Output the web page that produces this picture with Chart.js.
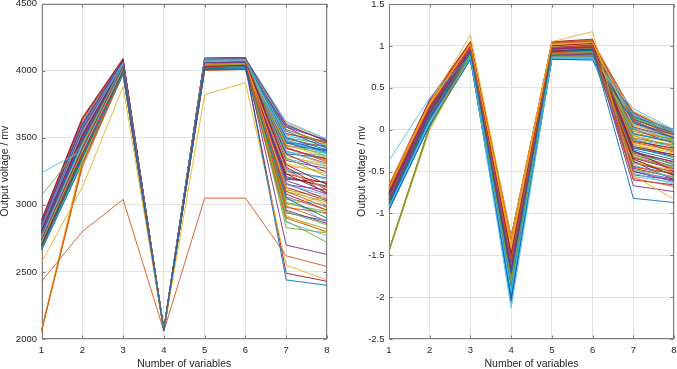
<!DOCTYPE html>
<html>
<head>
<meta charset="utf-8">
<script src="https://cdn.jsdelivr.net/npm/chart.js@4.4.0/dist/chart.umd.min.js"></script>
<style>
    html, body { margin: 0; padding: 0; background: #fff; overflow: hidden; }
    canvas { position: absolute; top: 0; }
    #leftChart { left: 0; }
    #rightChart { left: 338px; }
</style>
</head>
<body>
<canvas id="leftChart" width="338" height="369"></canvas>
<canvas id="rightChart" width="339" height="369"></canvas>
<script>
'use strict';

var xLabels = ['1', '2', '3', '4', '5', '6', '7', '8'];

// matlab default colour order, lines cycle through it
var lineColors = ['#0072BD', '#D95319', '#EDB120', '#7E2F8E', '#77AC30', '#4DBEEE', '#A2142F'];

// left panel: raw output voltage
var leftLines = [
    [2680, 3350, 3990, 2060, 4020, 4030, 2440, 2400],
    [2430, 2800, 3040, 2060, 3050, 3050, 2620, 2540],
    [2570, 3130, 3880, 2058, 3820, 3910, 2550, 2440],
    [2740, 3420, 4030, 2066, 4060, 4060, 2700, 2630],
    [3070, 3450, 4040, 2068, 4080, 4085, 3350, 3210],
    [3240, 3400, 4020, 2064, 4065, 4075, 3480, 3380],
    [2700, 3380, 4000, 2062, 4030, 4040, 2490, 2430],
    [2790, 3480, 4030, 2065, 4060, 4070, 3550, 3420],
    [2055, 3300, 4000, 2062, 4030, 4040, 3100, 2980],
    [2060, 3320, 4020, 2065, 4050, 4050, 3250, 3120],
    [2850, 3600, 4070, 2070, 4085, 4090, 3600, 3470],
    [2680, 3330, 3980, 2062, 4020, 4030, 2950, 2850],
    [2760, 3450, 4050, 2068, 4075, 4080, 3400, 3300],
    [2810, 3520, 4040, 2066, 4050, 4060, 3300, 3150],
    [2700, 3360, 3990, 2061, 4010, 4010, 3050, 2900],
    [2065, 3280, 3980, 2060, 4000, 4010, 2900, 2800],
    [2070, 3340, 4050, 2070, 4070, 4080, 3450, 3350],
    [2770, 3470, 4040, 2067, 4070, 4075, 3180, 3080],
    [2730, 3400, 4010, 2063, 4040, 4045, 2880, 2720],
    [2820, 3540, 4060, 2069, 4090, 4092, 3620, 3490],
    [2880, 3640, 4085, 2072, 4092, 4095, 3280, 3110],
    [2660, 3310, 3970, 2060, 4015, 4020, 3480, 3400],
    [2058, 3310, 4010, 2064, 4040, 4045, 2990, 2880],
    [2750, 3440, 4030, 2066, 4055, 4060, 3120, 3000],
    [2800, 3500, 4050, 2068, 4080, 4085, 3380, 3240],
    [2710, 3370, 4000, 2062, 4030, 4035, 3020, 2930],
    [2840, 3580, 4065, 2070, 4088, 4090, 3520, 3440],
    [2690, 3350, 3985, 2061, 4005, 4008, 3210, 3130],
    [2860, 3610, 4075, 2071, 4090, 4093, 3460, 3390],
    [2780, 3490, 4045, 2067, 4065, 4070, 3060, 2960],
    [2720, 3390, 4015, 2064, 4045, 4050, 2920, 2790],
    [2830, 3560, 4060, 2069, 4078, 4082, 3330, 3270],
    [2760, 3460, 4035, 2066, 4058, 4066, 2830, 2790],
    [2670, 3320, 3975, 2060, 4012, 4018, 3150, 3070],
    [2890, 3650, 4090, 2074, 4094, 4095, 3230, 3090],
    [2800, 3510, 4055, 2068, 4070, 4078, 3500, 3410],
    [2740, 3430, 4025, 2065, 4048, 4055, 3420, 3330],
    [2710, 3380, 4005, 2063, 4035, 4040, 3000, 3060],
    [2850, 3590, 4068, 2070, 4086, 4090, 3160, 3040],
    [2690, 3340, 3990, 2061, 4025, 4028, 3560, 3450],
    [2780, 3500, 4048, 2067, 4072, 4076, 3260, 3190],
    [2760, 3470, 4038, 2066, 4062, 4068, 3080, 2960],
    [2720, 3400, 4012, 2064, 4042, 4048, 3380, 3350],
    [2870, 3630, 4080, 2072, 4090, 4094, 3530, 3460],
    [2700, 3370, 3995, 2062, 4028, 4034, 3310, 3230],
    [2810, 3530, 4058, 2068, 4076, 4080, 2960, 2860],
    [2750, 3450, 4028, 2065, 4052, 4058, 3440, 3380],
    [2690, 3360, 3992, 2062, 4022, 4026, 2870, 2770],
    [2830, 3570, 4062, 2069, 4082, 4088, 3130, 3030],
    [2770, 3490, 4042, 2066, 4064, 4072, 3200, 3140],
    [2740, 3420, 4020, 2064, 4046, 4052, 3490, 3430],
    [2860, 3620, 4072, 2071, 4088, 4092, 3360, 3300],
    [2710, 3380, 4002, 2063, 4032, 4038, 3580, 3480],
    [2800, 3510, 4052, 2067, 4068, 4074, 2910, 2820],
    [2730, 3410, 4018, 2064, 4044, 4050, 3040, 3000],
    [2790, 3500, 4046, 2067, 4066, 4072, 3420, 3340],
    [2745, 3425, 4022, 2065, 4050, 4056, 3470, 3400],
    [2815, 3545, 4064, 2069, 4084, 4089, 3560, 3460],
    [2705, 3365, 3998, 2062, 4026, 4032, 3290, 3250],
    [2835, 3575, 4066, 2070, 4087, 4091, 3440, 3410],
    [2685, 3345, 3988, 2061, 4018, 4024, 3100, 3020],
    [2775, 3485, 4044, 2066, 4063, 4070, 3510, 3380],
    [2725, 3405, 4016, 2064, 4043, 4049, 3230, 3160],
    [2855, 3595, 4070, 2071, 4089, 4093, 3590, 3480],
    [2665, 3315, 3972, 2060, 4008, 4014, 2980, 2940],
    [2795, 3505, 4050, 2067, 4069, 4075, 3370, 3280],
    [2735, 3415, 4020, 2065, 4047, 4053, 3150, 3110],
    [2825, 3555, 4060, 2069, 4080, 4086, 3470, 3360],
    [2715, 3385, 4006, 2063, 4036, 4042, 3060, 2860],
    [2765, 3465, 4036, 2066, 4060, 4067, 3530, 3470],
    [2845, 3585, 4067, 2070, 4087, 4091, 3250, 3200],
    [2695, 3355, 3994, 2062, 4024, 4030, 3400, 3310],
    [2785, 3495, 4046, 2067, 4067, 4073, 3110, 3060],
    [2755, 3445, 4030, 2065, 4054, 4060, 3580, 3430],
    [2875, 3635, 4082, 2072, 4091, 4094, 3500, 3450],
    [2675, 3325, 3978, 2060, 4010, 4016, 3340, 3290],
    [2805, 3515, 4054, 2068, 4073, 4079, 3190, 3170],
    [2725, 3395, 4010, 2063, 4040, 4046, 2940, 2880],
    [2765, 3455, 4034, 2066, 4057, 4064, 3430, 3320],
    [2815, 3540, 4058, 2068, 4079, 4084, 3610, 3485],
    [2705, 3375, 4000, 2062, 4030, 4036, 3270, 3080],
    [2745, 3435, 4024, 2065, 4049, 4055, 3010, 2950],
    [2835, 3565, 4062, 2069, 4083, 4087, 3390, 3370],
    [2785, 3480, 4040, 2066, 4061, 4069, 3460, 3440],
];

// right panel: normalised output voltage
var rightLines = [
    [-0.88, 0.18, 0.92, -1.72, 0.93, 0.95, -0.82, -0.87],
    [-0.72, 0.28, 0.98, -1.55, 0.98, 1.00, -0.45, -0.52],
    [-0.65, 0.32, 1.13, -1.28, 1.05, 1.17, -0.55, -0.83],
    [-0.80, 0.22, 0.95, -1.65, 0.96, 0.98, -0.67, -0.74],
    [-1.45, 0.02, 0.90, -1.80, 0.90, 0.92, -0.30, -0.40],
    [-0.37, 0.38, 0.88, -2.13, 0.86, 0.84, 0.25, 0.00],
    [-0.85, 0.20, 0.94, -1.70, 0.94, 0.96, -0.20, -0.30],
    [-0.95, 0.05, 0.84, -2.00, 0.84, 0.83, 0.10, -0.10],
    [-1.44, 0.03, 0.92, -1.75, 0.92, 0.93, -0.15, -0.25],
    [-0.70, 0.30, 1.02, -1.35, 1.02, 1.04, 0.05, -0.08],
    [-0.78, 0.25, 0.97, -1.58, 0.97, 0.99, -0.50, -0.62],
    [-0.82, 0.21, 0.95, -1.62, 0.95, 0.97, -0.10, -0.18],
    [-0.92, 0.10, 0.86, -1.92, 0.86, 0.86, 0.18, -0.02],
    [-0.74, 0.28, 1.00, -1.48, 1.00, 1.03, -0.35, -0.55],
    [-0.90, 0.12, 0.88, -1.88, 0.88, 0.88, -0.05, -0.15],
    [-0.68, 0.33, 1.04, -1.32, 1.04, 1.06, 0.12, -0.05],
    [-1.46, 0.00, 0.88, -1.85, 0.87, 0.88, -0.40, -0.48],
    [-0.76, 0.26, 0.98, -1.52, 0.98, 1.01, -0.28, -0.38],
    [-0.86, 0.17, 0.92, -1.74, 0.92, 0.93, 0.00, -0.12],
    [-0.94, 0.08, 0.85, -1.96, 0.85, 0.85, -0.42, -0.58],
    [-0.66, 0.36, 1.05, -1.30, 1.05, 1.08, -0.25, -0.50],
    [-0.84, 0.19, 0.93, -1.68, 0.93, 0.95, 0.15, 0.00],
    [-0.79, 0.24, 0.96, -1.60, 0.96, 0.98, -0.58, -0.68],
    [-0.71, 0.30, 1.01, -1.40, 1.01, 1.03, -0.18, -0.28],
    [-0.89, 0.14, 0.89, -1.82, 0.89, 0.90, 0.08, -0.06],
    [-1.43, 0.05, 0.94, -1.78, 0.94, 0.95, -0.48, -0.56],
    [-0.93, 0.09, 0.86, -1.94, 0.86, 0.86, -0.12, -0.20],
    [-0.77, 0.26, 0.97, -1.54, 0.97, 1.00, -0.38, -0.60],
    [-0.87, 0.15, 0.90, -1.78, 0.90, 0.91, -0.22, -0.32],
    [-0.69, 0.32, 1.03, -1.36, 1.03, 1.05, 0.20, -0.02],
    [-0.73, 0.29, 1.00, -1.44, 0.99, 1.02, -0.08, -0.15],
    [-0.81, 0.22, 0.95, -1.63, 0.95, 0.97, 0.03, -0.09],
    [-0.91, 0.11, 0.87, -1.90, 0.87, 0.87, -0.32, -0.45],
    [-0.75, 0.27, 0.99, -1.50, 0.99, 1.02, -0.52, -0.65],
    [-0.83, 0.20, 0.94, -1.66, 0.94, 0.96, -0.14, -0.22],
    [-0.96, 0.06, 0.84, -2.02, 0.84, 0.84, -0.26, -0.42],
    [-0.67, 0.34, 1.05, -1.31, 1.04, 1.07, -0.02, -0.12],
    [-0.85, 0.18, 0.92, -1.72, 0.91, 0.93, 0.22, -0.01],
    [-0.79, 0.24, 0.96, -1.57, 0.96, 0.99, -0.44, -0.53],
    [-0.88, 0.13, 0.89, -1.84, 0.89, 0.89, -0.36, -0.52],
    [-0.72, 0.29, 1.01, -1.42, 1.01, 1.04, 0.06, -0.04],
    [-0.80, 0.23, 0.95, -1.60, 0.95, 0.98, -0.60, -0.66],
    [-0.92, 0.10, 0.86, -1.92, 0.86, 0.85, 0.12, -0.04],
    [-0.74, 0.27, 0.99, -1.46, 0.99, 1.02, -0.33, -0.46],
    [-0.70, 0.31, 1.02, -1.38, 1.02, 1.05, -0.16, -0.26],
    [-0.86, 0.16, 0.91, -1.76, 0.91, 0.92, -0.54, -0.60],
    [-0.78, 0.25, 0.97, -1.56, 0.97, 1.00, 0.14, -0.03],
    [-0.90, 0.12, 0.87, -1.86, 0.87, 0.87, -0.06, -0.13],
    [-0.82, 0.21, 0.94, -1.64, 0.94, 0.96, -0.46, -0.57],
    [-0.76, 0.26, 0.98, -1.52, 0.98, 1.01, -0.24, -0.36],
    [-0.93, 0.09, 0.85, -1.98, 0.85, 0.85, -0.10, -0.19],
    [-0.68, 0.33, 1.03, -1.34, 1.03, 1.06, 0.09, -0.07],
    [-0.84, 0.18, 0.93, -1.70, 0.92, 0.94, -0.30, -0.44],
    [-0.71, 0.30, 1.00, -1.42, 1.00, 1.03, -0.12, -0.24],
    [-0.87, 0.15, 0.90, -1.80, 0.90, 0.90, 0.02, -0.11],
    [-0.77, 0.25, 0.97, -1.54, 0.97, 0.99, -0.40, -0.50],
    [-0.83, 0.19, 0.93, -1.36, 0.93, 0.95, 0.17, -0.05],
    [-0.74, 0.28, 0.99, -1.92, 0.98, 1.01, 0.11, -0.09],
    [-0.91, 0.11, 0.87, -1.45, 0.87, 0.88, -0.04, -0.16],
    [-0.69, 0.32, 1.02, -2.05, 1.02, 1.04, 0.19, -0.03],
    [-0.86, 0.16, 0.91, -1.30, 0.91, 0.92, -0.20, -0.34],
    [-0.78, 0.24, 0.97, -1.84, 0.96, 0.99, 0.07, -0.11],
    [-0.94, 0.07, 0.85, -1.60, 0.85, 0.85, -0.34, -0.47],
    [-0.72, 0.29, 1.00, -1.98, 1.00, 1.03, 0.13, -0.06],
    [-0.81, 0.21, 0.94, -1.40, 0.94, 0.96, -0.07, -0.21],
    [-0.89, 0.13, 0.89, -1.70, 0.88, 0.89, 0.04, -0.14],
    [-0.67, 0.34, 1.04, -1.88, 1.04, 1.06, -0.22, -0.30],
    [-0.84, 0.18, 0.92, -1.50, 0.92, 0.94, 0.16, -0.08],
    [-0.76, 0.26, 0.98, -2.08, 0.97, 1.00, -0.48, -0.61],
    [-0.92, 0.10, 0.86, -1.34, 0.86, 0.86, 0.01, -0.17],
    [-0.70, 0.31, 1.01, -1.76, 1.01, 1.04, -0.11, -0.27],
    [-0.87, 0.15, 0.90, -1.58, 0.90, 0.91, 0.10, -0.12],
    [-0.79, 0.23, 0.96, -1.95, 0.96, 0.98, -0.28, -0.41],
    [-0.95, 0.06, 0.84, -1.44, 0.84, 0.84, 0.21, -0.04],
    [-0.73, 0.28, 0.99, -1.66, 0.99, 1.02, -0.17, -0.33],
    [-0.85, 0.17, 0.92, -1.86, 0.91, 0.93, -0.56, -0.63],
    [-0.68, 0.33, 1.03, -1.27, 1.03, 1.05, 0.08, -0.10],
    [-0.90, 0.12, 0.88, -2.00, 0.88, 0.88, -0.38, -0.54],
    [-0.77, 0.25, 0.97, -1.62, 0.97, 0.99, 0.13, -0.07],
    [-0.82, 0.20, 0.94, -1.80, 0.94, 0.96, -0.13, -0.23],
    [-1.45, 0.04, 0.91, -1.68, 0.91, 0.92, -0.50, -0.59],
    [-0.75, 0.27, 0.98, -1.38, 0.98, 1.01, -0.04, -0.14],
    [-0.88, 0.14, 0.89, -1.90, 0.89, 0.90, 0.18, -0.02],
    [-0.71, 0.30, 1.00, -1.48, 1.00, 1.03, -0.26, -0.39],
];

var axisColor = '#7d7d7d';
var gridColor = '#e3e3e3';
var textColor = '#262626';
var fontFamily = '"Liberation Sans", Arial, Helvetica, sans-serif';

// matlab style box with inward tick marks on all four sides
var boxAndTicks = {
    id: 'boxAndTicks',
    beforeDatasetsDraw: function (chart) {
        var ctx = chart.ctx;
        var a = chart.chartArea;
        var x = chart.scales.x;
        var y = chart.scales.y;
        var l = Math.round(a.left) + 0.5;
        var r = Math.round(a.right) - 0.5;
        var t = Math.round(a.top) + 0.5;
        var b = Math.round(a.bottom) - 0.5;
        ctx.save();
        ctx.strokeStyle = axisColor;
        ctx.lineWidth = 1;
        ctx.beginPath();
        x.ticks.forEach(function (tick, i) {
            var px = Math.round(x.getPixelForTick(i)) + 0.5;
            ctx.moveTo(px, b);
            ctx.lineTo(px, b - 3);
            ctx.moveTo(px, t);
            ctx.lineTo(px, t + 3);
        });
        y.ticks.forEach(function (tick, i) {
            var py = Math.round(y.getPixelForTick(i)) + 0.5;
            ctx.moveTo(l, py);
            ctx.lineTo(l + 3, py);
            ctx.moveTo(r, py);
            ctx.lineTo(r - 3, py);
        });
        ctx.stroke();
        ctx.strokeRect(l, t, r - l, b - t);
        ctx.restore();
    },
};

function makePanel(canvasId, lines, yMin, yMax, yStep, yWidth, padding) {
    var datasets = lines.map(function (values, i) {
        return {
            data: values,
            borderColor: lineColors[i % lineColors.length],
            borderWidth: 0.9,
            pointRadius: 0,
            fill: false,
            tension: 0,
        };
    });

    return new Chart(document.getElementById(canvasId), {
        type: 'line',
        data: {
            labels: xLabels,
            datasets: datasets,
        },
        options: {
            responsive: false,
            animation: false,
            events: [],
            layout: {
                padding: padding,
            },
            scales: {
                x: {
                    type: 'category',
                    offset: false,
                    grid: {
                        color: gridColor,
                        offset: false,
                        drawTicks: false,
                    },
                    border: {
                        display: false,
                    },
                    ticks: {
                        color: textColor,
                        padding: 6,
                        maxRotation: 0,
                        font: { family: fontFamily, size: 9.5 },
                    },
                    title: {
                        display: true,
                        text: 'Number of variables',
                        color: textColor,
                        padding: 0,
                        font: { family: fontFamily, size: 10.5, lineHeight: 1 },
                    },
                    afterFit: function (scale) {
                        scale.height = 30;
                        scale.paddingLeft = 0;
                        scale.paddingRight = 0;
                    },
                },
                y: {
                    min: yMin,
                    max: yMax,
                    grid: {
                        color: gridColor,
                        drawTicks: false,
                    },
                    border: {
                        display: false,
                    },
                    ticks: {
                        stepSize: yStep,
                        color: textColor,
                        padding: 4.5,
                        font: { family: fontFamily, size: 9.5 },
                        callback: function (value) {
                            return String(value);
                        },
                    },
                    title: {
                        display: true,
                        text: 'Output voltage / mv',
                        color: textColor,
                        padding: 0,
                        font: { family: fontFamily, size: 10.5, lineHeight: 1 },
                    },
                    afterFit: function (scale) {
                        scale.width = yWidth;
                        scale.paddingTop = 0;
                        scale.paddingBottom = 0;
                    },
                },
            },
            plugins: {
                legend: { display: false },
                tooltip: { enabled: false },
            },
        },
        plugins: [boxAndTicks],
    });
}

makePanel('leftChart', leftLines, 2000, 4500, 500, 41.5, { left: 0, top: 3.5, right: 11, bottom: 0 });
makePanel('rightChart', rightLines, -2.5, 1.5, 0.5, 32.5, { left: 18.5, top: 4, right: 3, bottom: 0 });
</script>
</body>
</html>
